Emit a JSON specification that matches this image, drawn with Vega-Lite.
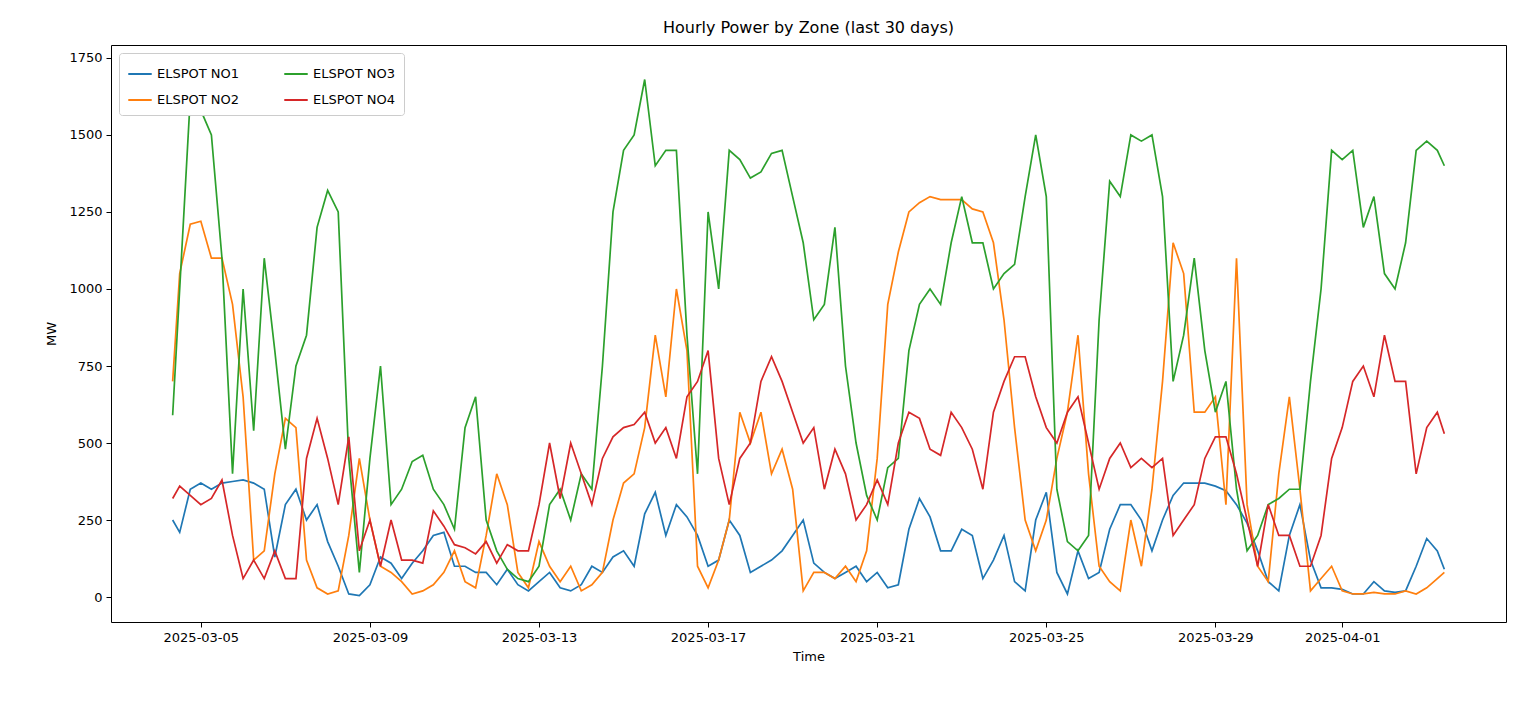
{
  "$schema": "https://vega.github.io/schema/vega-lite/v6.json",
  "width": 1395,
  "height": 577,
  "autosize": {"type": "none"},
  "padding": {"left": 111, "top": 45, "right": 14, "bottom": 79},
  "title": {"text": "Hourly Power by Zone (last 30 days)", "font": "DejaVu Sans", "fontSize": 16, "fontWeight": "normal", "offset": 9},
  "config": {
    "font": "DejaVu Sans",
    "view": {"stroke": "black", "strokeWidth": 1},
    "axis": {"grid": false, "domain": false, "tickColor": "black", "labelColor": "black", "labelFontSize": 13, "titleFontSize": 13, "titleFontWeight": "normal", "tickSize": 5, "labelPadding": 4}
  },
  "data": {"values": [
    {"t":"2025-03-04T08:00","ELSPOT NO1":250,"ELSPOT NO2":700,"ELSPOT NO3":590,"ELSPOT NO4":320},
    {"t":"2025-03-04T12:00","ELSPOT NO1":210,"ELSPOT NO2":1050,"ELSPOT NO3":1000,"ELSPOT NO4":360},
    {"t":"2025-03-04T18:00","ELSPOT NO1":350,"ELSPOT NO2":1210,"ELSPOT NO3":1620,"ELSPOT NO4":330},
    {"t":"2025-03-05T00:00","ELSPOT NO1":370,"ELSPOT NO2":1220,"ELSPOT NO3":1580,"ELSPOT NO4":300},
    {"t":"2025-03-05T06:00","ELSPOT NO1":350,"ELSPOT NO2":1100,"ELSPOT NO3":1500,"ELSPOT NO4":320},
    {"t":"2025-03-05T12:00","ELSPOT NO1":370,"ELSPOT NO2":1100,"ELSPOT NO3":1100,"ELSPOT NO4":380},
    {"t":"2025-03-05T18:00","ELSPOT NO1":375,"ELSPOT NO2":950,"ELSPOT NO3":400,"ELSPOT NO4":200},
    {"t":"2025-03-06T00:00","ELSPOT NO1":380,"ELSPOT NO2":650,"ELSPOT NO3":1000,"ELSPOT NO4":60},
    {"t":"2025-03-06T06:00","ELSPOT NO1":370,"ELSPOT NO2":120,"ELSPOT NO3":540,"ELSPOT NO4":120},
    {"t":"2025-03-06T12:00","ELSPOT NO1":350,"ELSPOT NO2":150,"ELSPOT NO3":1100,"ELSPOT NO4":60},
    {"t":"2025-03-06T18:00","ELSPOT NO1":130,"ELSPOT NO2":400,"ELSPOT NO3":800,"ELSPOT NO4":150},
    {"t":"2025-03-07T00:00","ELSPOT NO1":300,"ELSPOT NO2":580,"ELSPOT NO3":480,"ELSPOT NO4":60},
    {"t":"2025-03-07T06:00","ELSPOT NO1":350,"ELSPOT NO2":550,"ELSPOT NO3":750,"ELSPOT NO4":60},
    {"t":"2025-03-07T12:00","ELSPOT NO1":250,"ELSPOT NO2":120,"ELSPOT NO3":850,"ELSPOT NO4":450},
    {"t":"2025-03-07T18:00","ELSPOT NO1":300,"ELSPOT NO2":30,"ELSPOT NO3":1200,"ELSPOT NO4":580},
    {"t":"2025-03-08T00:00","ELSPOT NO1":180,"ELSPOT NO2":10,"ELSPOT NO3":1320,"ELSPOT NO4":450},
    {"t":"2025-03-08T06:00","ELSPOT NO1":100,"ELSPOT NO2":20,"ELSPOT NO3":1250,"ELSPOT NO4":300},
    {"t":"2025-03-08T12:00","ELSPOT NO1":10,"ELSPOT NO2":200,"ELSPOT NO3":450,"ELSPOT NO4":520},
    {"t":"2025-03-08T18:00","ELSPOT NO1":5,"ELSPOT NO2":450,"ELSPOT NO3":80,"ELSPOT NO4":150},
    {"t":"2025-03-09T00:00","ELSPOT NO1":40,"ELSPOT NO2":250,"ELSPOT NO3":450,"ELSPOT NO4":250},
    {"t":"2025-03-09T06:00","ELSPOT NO1":130,"ELSPOT NO2":100,"ELSPOT NO3":750,"ELSPOT NO4":100},
    {"t":"2025-03-09T12:00","ELSPOT NO1":110,"ELSPOT NO2":80,"ELSPOT NO3":300,"ELSPOT NO4":250},
    {"t":"2025-03-09T18:00","ELSPOT NO1":60,"ELSPOT NO2":50,"ELSPOT NO3":350,"ELSPOT NO4":120},
    {"t":"2025-03-10T00:00","ELSPOT NO1":110,"ELSPOT NO2":10,"ELSPOT NO3":440,"ELSPOT NO4":120},
    {"t":"2025-03-10T06:00","ELSPOT NO1":150,"ELSPOT NO2":20,"ELSPOT NO3":460,"ELSPOT NO4":110},
    {"t":"2025-03-10T12:00","ELSPOT NO1":200,"ELSPOT NO2":40,"ELSPOT NO3":350,"ELSPOT NO4":280},
    {"t":"2025-03-10T18:00","ELSPOT NO1":210,"ELSPOT NO2":80,"ELSPOT NO3":300,"ELSPOT NO4":230},
    {"t":"2025-03-11T00:00","ELSPOT NO1":100,"ELSPOT NO2":150,"ELSPOT NO3":220,"ELSPOT NO4":170},
    {"t":"2025-03-11T06:00","ELSPOT NO1":100,"ELSPOT NO2":50,"ELSPOT NO3":550,"ELSPOT NO4":160},
    {"t":"2025-03-11T12:00","ELSPOT NO1":80,"ELSPOT NO2":30,"ELSPOT NO3":650,"ELSPOT NO4":140},
    {"t":"2025-03-11T18:00","ELSPOT NO1":80,"ELSPOT NO2":200,"ELSPOT NO3":250,"ELSPOT NO4":180},
    {"t":"2025-03-12T00:00","ELSPOT NO1":40,"ELSPOT NO2":400,"ELSPOT NO3":150,"ELSPOT NO4":110},
    {"t":"2025-03-12T06:00","ELSPOT NO1":90,"ELSPOT NO2":300,"ELSPOT NO3":90,"ELSPOT NO4":170},
    {"t":"2025-03-12T12:00","ELSPOT NO1":40,"ELSPOT NO2":80,"ELSPOT NO3":60,"ELSPOT NO4":150},
    {"t":"2025-03-12T18:00","ELSPOT NO1":20,"ELSPOT NO2":30,"ELSPOT NO3":50,"ELSPOT NO4":150},
    {"t":"2025-03-13T00:00","ELSPOT NO1":50,"ELSPOT NO2":180,"ELSPOT NO3":100,"ELSPOT NO4":300},
    {"t":"2025-03-13T06:00","ELSPOT NO1":80,"ELSPOT NO2":100,"ELSPOT NO3":300,"ELSPOT NO4":500},
    {"t":"2025-03-13T12:00","ELSPOT NO1":30,"ELSPOT NO2":50,"ELSPOT NO3":350,"ELSPOT NO4":320},
    {"t":"2025-03-13T18:00","ELSPOT NO1":20,"ELSPOT NO2":100,"ELSPOT NO3":250,"ELSPOT NO4":500},
    {"t":"2025-03-14T00:00","ELSPOT NO1":40,"ELSPOT NO2":20,"ELSPOT NO3":400,"ELSPOT NO4":400},
    {"t":"2025-03-14T06:00","ELSPOT NO1":100,"ELSPOT NO2":40,"ELSPOT NO3":350,"ELSPOT NO4":300},
    {"t":"2025-03-14T12:00","ELSPOT NO1":80,"ELSPOT NO2":80,"ELSPOT NO3":750,"ELSPOT NO4":450},
    {"t":"2025-03-14T18:00","ELSPOT NO1":130,"ELSPOT NO2":250,"ELSPOT NO3":1250,"ELSPOT NO4":520},
    {"t":"2025-03-15T00:00","ELSPOT NO1":150,"ELSPOT NO2":370,"ELSPOT NO3":1450,"ELSPOT NO4":550},
    {"t":"2025-03-15T06:00","ELSPOT NO1":100,"ELSPOT NO2":400,"ELSPOT NO3":1500,"ELSPOT NO4":560},
    {"t":"2025-03-15T12:00","ELSPOT NO1":270,"ELSPOT NO2":550,"ELSPOT NO3":1680,"ELSPOT NO4":600},
    {"t":"2025-03-15T18:00","ELSPOT NO1":340,"ELSPOT NO2":850,"ELSPOT NO3":1400,"ELSPOT NO4":500},
    {"t":"2025-03-16T00:00","ELSPOT NO1":200,"ELSPOT NO2":650,"ELSPOT NO3":1450,"ELSPOT NO4":550},
    {"t":"2025-03-16T06:00","ELSPOT NO1":300,"ELSPOT NO2":1000,"ELSPOT NO3":1450,"ELSPOT NO4":450},
    {"t":"2025-03-16T12:00","ELSPOT NO1":260,"ELSPOT NO2":800,"ELSPOT NO3":850,"ELSPOT NO4":650},
    {"t":"2025-03-16T18:00","ELSPOT NO1":200,"ELSPOT NO2":100,"ELSPOT NO3":400,"ELSPOT NO4":700},
    {"t":"2025-03-17T00:00","ELSPOT NO1":100,"ELSPOT NO2":30,"ELSPOT NO3":1250,"ELSPOT NO4":800},
    {"t":"2025-03-17T06:00","ELSPOT NO1":120,"ELSPOT NO2":120,"ELSPOT NO3":1000,"ELSPOT NO4":450},
    {"t":"2025-03-17T12:00","ELSPOT NO1":250,"ELSPOT NO2":250,"ELSPOT NO3":1450,"ELSPOT NO4":300},
    {"t":"2025-03-17T18:00","ELSPOT NO1":200,"ELSPOT NO2":600,"ELSPOT NO3":1420,"ELSPOT NO4":450},
    {"t":"2025-03-18T00:00","ELSPOT NO1":80,"ELSPOT NO2":500,"ELSPOT NO3":1360,"ELSPOT NO4":500},
    {"t":"2025-03-18T06:00","ELSPOT NO1":100,"ELSPOT NO2":600,"ELSPOT NO3":1380,"ELSPOT NO4":700},
    {"t":"2025-03-18T12:00","ELSPOT NO1":120,"ELSPOT NO2":400,"ELSPOT NO3":1440,"ELSPOT NO4":780},
    {"t":"2025-03-18T18:00","ELSPOT NO1":150,"ELSPOT NO2":480,"ELSPOT NO3":1450,"ELSPOT NO4":700},
    {"t":"2025-03-19T00:00","ELSPOT NO1":200,"ELSPOT NO2":350,"ELSPOT NO3":1300,"ELSPOT NO4":600},
    {"t":"2025-03-19T06:00","ELSPOT NO1":250,"ELSPOT NO2":20,"ELSPOT NO3":1150,"ELSPOT NO4":500},
    {"t":"2025-03-19T12:00","ELSPOT NO1":110,"ELSPOT NO2":80,"ELSPOT NO3":900,"ELSPOT NO4":550},
    {"t":"2025-03-19T18:00","ELSPOT NO1":80,"ELSPOT NO2":80,"ELSPOT NO3":950,"ELSPOT NO4":350},
    {"t":"2025-03-20T00:00","ELSPOT NO1":60,"ELSPOT NO2":60,"ELSPOT NO3":1200,"ELSPOT NO4":480},
    {"t":"2025-03-20T06:00","ELSPOT NO1":80,"ELSPOT NO2":100,"ELSPOT NO3":750,"ELSPOT NO4":400},
    {"t":"2025-03-20T12:00","ELSPOT NO1":100,"ELSPOT NO2":50,"ELSPOT NO3":500,"ELSPOT NO4":250},
    {"t":"2025-03-20T18:00","ELSPOT NO1":50,"ELSPOT NO2":150,"ELSPOT NO3":330,"ELSPOT NO4":300},
    {"t":"2025-03-21T00:00","ELSPOT NO1":80,"ELSPOT NO2":450,"ELSPOT NO3":250,"ELSPOT NO4":380},
    {"t":"2025-03-21T06:00","ELSPOT NO1":30,"ELSPOT NO2":950,"ELSPOT NO3":420,"ELSPOT NO4":300},
    {"t":"2025-03-21T12:00","ELSPOT NO1":40,"ELSPOT NO2":1120,"ELSPOT NO3":450,"ELSPOT NO4":500},
    {"t":"2025-03-21T18:00","ELSPOT NO1":220,"ELSPOT NO2":1250,"ELSPOT NO3":800,"ELSPOT NO4":600},
    {"t":"2025-03-22T00:00","ELSPOT NO1":320,"ELSPOT NO2":1280,"ELSPOT NO3":950,"ELSPOT NO4":580},
    {"t":"2025-03-22T06:00","ELSPOT NO1":260,"ELSPOT NO2":1300,"ELSPOT NO3":1000,"ELSPOT NO4":480},
    {"t":"2025-03-22T12:00","ELSPOT NO1":150,"ELSPOT NO2":1290,"ELSPOT NO3":950,"ELSPOT NO4":460},
    {"t":"2025-03-22T18:00","ELSPOT NO1":150,"ELSPOT NO2":1290,"ELSPOT NO3":1150,"ELSPOT NO4":600},
    {"t":"2025-03-23T00:00","ELSPOT NO1":220,"ELSPOT NO2":1290,"ELSPOT NO3":1300,"ELSPOT NO4":550},
    {"t":"2025-03-23T06:00","ELSPOT NO1":200,"ELSPOT NO2":1260,"ELSPOT NO3":1150,"ELSPOT NO4":480},
    {"t":"2025-03-23T12:00","ELSPOT NO1":60,"ELSPOT NO2":1250,"ELSPOT NO3":1150,"ELSPOT NO4":350},
    {"t":"2025-03-23T18:00","ELSPOT NO1":120,"ELSPOT NO2":1150,"ELSPOT NO3":1000,"ELSPOT NO4":600},
    {"t":"2025-03-24T00:00","ELSPOT NO1":200,"ELSPOT NO2":900,"ELSPOT NO3":1050,"ELSPOT NO4":700},
    {"t":"2025-03-24T06:00","ELSPOT NO1":50,"ELSPOT NO2":550,"ELSPOT NO3":1080,"ELSPOT NO4":780},
    {"t":"2025-03-24T12:00","ELSPOT NO1":20,"ELSPOT NO2":250,"ELSPOT NO3":1300,"ELSPOT NO4":780},
    {"t":"2025-03-24T18:00","ELSPOT NO1":250,"ELSPOT NO2":150,"ELSPOT NO3":1500,"ELSPOT NO4":650},
    {"t":"2025-03-25T00:00","ELSPOT NO1":340,"ELSPOT NO2":250,"ELSPOT NO3":1300,"ELSPOT NO4":550},
    {"t":"2025-03-25T06:00","ELSPOT NO1":80,"ELSPOT NO2":450,"ELSPOT NO3":350,"ELSPOT NO4":500},
    {"t":"2025-03-25T12:00","ELSPOT NO1":10,"ELSPOT NO2":600,"ELSPOT NO3":180,"ELSPOT NO4":600},
    {"t":"2025-03-25T18:00","ELSPOT NO1":150,"ELSPOT NO2":850,"ELSPOT NO3":150,"ELSPOT NO4":650},
    {"t":"2025-03-26T00:00","ELSPOT NO1":60,"ELSPOT NO2":400,"ELSPOT NO3":200,"ELSPOT NO4":500},
    {"t":"2025-03-26T06:00","ELSPOT NO1":80,"ELSPOT NO2":100,"ELSPOT NO3":900,"ELSPOT NO4":350},
    {"t":"2025-03-26T12:00","ELSPOT NO1":220,"ELSPOT NO2":50,"ELSPOT NO3":1350,"ELSPOT NO4":450},
    {"t":"2025-03-26T18:00","ELSPOT NO1":300,"ELSPOT NO2":20,"ELSPOT NO3":1300,"ELSPOT NO4":500},
    {"t":"2025-03-27T00:00","ELSPOT NO1":300,"ELSPOT NO2":250,"ELSPOT NO3":1500,"ELSPOT NO4":420},
    {"t":"2025-03-27T06:00","ELSPOT NO1":250,"ELSPOT NO2":100,"ELSPOT NO3":1480,"ELSPOT NO4":450},
    {"t":"2025-03-27T12:00","ELSPOT NO1":150,"ELSPOT NO2":350,"ELSPOT NO3":1500,"ELSPOT NO4":420},
    {"t":"2025-03-27T18:00","ELSPOT NO1":250,"ELSPOT NO2":700,"ELSPOT NO3":1300,"ELSPOT NO4":450},
    {"t":"2025-03-28T00:00","ELSPOT NO1":330,"ELSPOT NO2":1150,"ELSPOT NO3":700,"ELSPOT NO4":200},
    {"t":"2025-03-28T06:00","ELSPOT NO1":370,"ELSPOT NO2":1050,"ELSPOT NO3":850,"ELSPOT NO4":250},
    {"t":"2025-03-28T12:00","ELSPOT NO1":370,"ELSPOT NO2":600,"ELSPOT NO3":1100,"ELSPOT NO4":300},
    {"t":"2025-03-28T18:00","ELSPOT NO1":370,"ELSPOT NO2":600,"ELSPOT NO3":800,"ELSPOT NO4":450},
    {"t":"2025-03-29T00:00","ELSPOT NO1":360,"ELSPOT NO2":650,"ELSPOT NO3":600,"ELSPOT NO4":520},
    {"t":"2025-03-29T06:00","ELSPOT NO1":345,"ELSPOT NO2":300,"ELSPOT NO3":700,"ELSPOT NO4":520},
    {"t":"2025-03-29T12:00","ELSPOT NO1":300,"ELSPOT NO2":1100,"ELSPOT NO3":350,"ELSPOT NO4":400},
    {"t":"2025-03-29T18:00","ELSPOT NO1":240,"ELSPOT NO2":300,"ELSPOT NO3":150,"ELSPOT NO4":250},
    {"t":"2025-03-30T00:00","ELSPOT NO1":150,"ELSPOT NO2":100,"ELSPOT NO3":200,"ELSPOT NO4":100},
    {"t":"2025-03-30T06:00","ELSPOT NO1":50,"ELSPOT NO2":50,"ELSPOT NO3":300,"ELSPOT NO4":300},
    {"t":"2025-03-30T12:00","ELSPOT NO1":20,"ELSPOT NO2":400,"ELSPOT NO3":320,"ELSPOT NO4":200},
    {"t":"2025-03-30T18:00","ELSPOT NO1":200,"ELSPOT NO2":650,"ELSPOT NO3":350,"ELSPOT NO4":200},
    {"t":"2025-03-31T00:00","ELSPOT NO1":300,"ELSPOT NO2":350,"ELSPOT NO3":350,"ELSPOT NO4":100},
    {"t":"2025-03-31T06:00","ELSPOT NO1":120,"ELSPOT NO2":20,"ELSPOT NO3":700,"ELSPOT NO4":100},
    {"t":"2025-03-31T12:00","ELSPOT NO1":30,"ELSPOT NO2":60,"ELSPOT NO3":1000,"ELSPOT NO4":200},
    {"t":"2025-03-31T18:00","ELSPOT NO1":30,"ELSPOT NO2":100,"ELSPOT NO3":1450,"ELSPOT NO4":450},
    {"t":"2025-04-01T00:00","ELSPOT NO1":25,"ELSPOT NO2":20,"ELSPOT NO3":1420,"ELSPOT NO4":550},
    {"t":"2025-04-01T06:00","ELSPOT NO1":10,"ELSPOT NO2":10,"ELSPOT NO3":1450,"ELSPOT NO4":700},
    {"t":"2025-04-01T12:00","ELSPOT NO1":10,"ELSPOT NO2":10,"ELSPOT NO3":1200,"ELSPOT NO4":750},
    {"t":"2025-04-01T18:00","ELSPOT NO1":50,"ELSPOT NO2":15,"ELSPOT NO3":1300,"ELSPOT NO4":650},
    {"t":"2025-04-02T00:00","ELSPOT NO1":20,"ELSPOT NO2":10,"ELSPOT NO3":1050,"ELSPOT NO4":850},
    {"t":"2025-04-02T06:00","ELSPOT NO1":15,"ELSPOT NO2":10,"ELSPOT NO3":1000,"ELSPOT NO4":700},
    {"t":"2025-04-02T12:00","ELSPOT NO1":20,"ELSPOT NO2":20,"ELSPOT NO3":1150,"ELSPOT NO4":700},
    {"t":"2025-04-02T18:00","ELSPOT NO1":100,"ELSPOT NO2":10,"ELSPOT NO3":1450,"ELSPOT NO4":400},
    {"t":"2025-04-03T00:00","ELSPOT NO1":190,"ELSPOT NO2":30,"ELSPOT NO3":1480,"ELSPOT NO4":550},
    {"t":"2025-04-03T06:00","ELSPOT NO1":150,"ELSPOT NO2":60,"ELSPOT NO3":1450,"ELSPOT NO4":600},
    {"t":"2025-04-03T10:00","ELSPOT NO1":90,"ELSPOT NO2":80,"ELSPOT NO3":1400,"ELSPOT NO4":530}
  ]},
  "transform": [
    {"fold": ["ELSPOT NO1", "ELSPOT NO2", "ELSPOT NO3", "ELSPOT NO4"], "as": ["zone", "mw"]}
  ],
  "mark": {"type": "line", "strokeWidth": 1.7},
  "encoding": {
    "x": {
      "field": "t", "type": "temporal", "title": "Time",
      "scale": {"domain": [{"year": 2025, "month": 3, "date": 2, "hours": 21}, {"year": 2025, "month": 4, "date": 4, "hours": 21}]},
      "axis": {
        "format": "%Y-%m-%d", "labelAngle": 0, "titlePadding": 6,
        "values": [
          {"year": 2025, "month": 3, "date": 5}, {"year": 2025, "month": 3, "date": 9},
          {"year": 2025, "month": 3, "date": 13}, {"year": 2025, "month": 3, "date": 17},
          {"year": 2025, "month": 3, "date": 21}, {"year": 2025, "month": 3, "date": 25},
          {"year": 2025, "month": 3, "date": 29}, {"year": 2025, "month": 4, "date": 1}
        ]
      }
    },
    "y": {
      "field": "mw", "type": "quantitative", "title": "MW",
      "scale": {"domain": [-81, 1792], "nice": false, "zero": false},
      "axis": {"values": [0, 250, 500, 750, 1000, 1250, 1500, 1750], "format": "d", "titlePadding": 10}
    },
    "color": {
      "field": "zone", "type": "nominal",
      "scale": {"domain": ["ELSPOT NO1", "ELSPOT NO3", "ELSPOT NO2", "ELSPOT NO4"], "range": ["#1f77b4", "#2ca02c", "#ff7f0e", "#d62728"]},
      "legend": {
        "title": null, "orient": "top-left", "columns": 2, "offset": 8,
        "direction": "horizontal",
        "symbolType": "stroke", "symbolSize": 550, "symbolStrokeWidth": 2,
        "labelFontSize": 13, "columnPadding": 40, "rowPadding": 6,
        "strokeColor": "#cccccc", "fillColor": "white", "padding": 8, "cornerRadius": 3
      }
    }
  }
}
